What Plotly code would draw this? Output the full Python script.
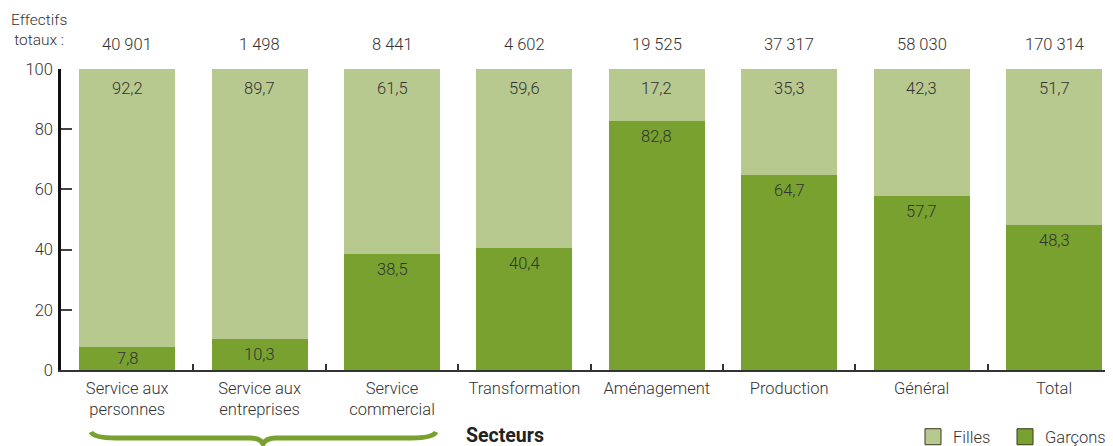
import plotly.graph_objects as go

categories = ["Service aux<br>personnes", "Service aux<br>entreprises", "Service<br>commercial",
              "Transformation", "Aménagement", "Production", "Général", "Total"]
garcons = [7.8, 10.3, 38.5, 40.4, 82.8, 64.7, 57.7, 48.3]
filles = [92.2, 89.7, 61.5, 59.6, 17.2, 35.3, 42.3, 51.7]
effectifs = [40901, 1498, 8441, 4602, 19525, 37317, 58030, 170314]

LIGHT = "#b7c98f"
DARK = "#78a12f"
TXT = "#333333"
FONT = dict(family="Roboto", size=16.5, color=TXT, weight=300)

# page body has an 8px margin: figure is sized so that it ends at the window edge
OFF = 8
W, H = 1113 - OFF, 446 - OFF
L, R, T, B = 61 - OFF, 0, 69 - OFF, 76
PW, PH = W - L - R, H - T - B


def px(x):
    return (x - OFF - L) / PW


def py(y):
    return (H - B - (y - OFF)) / PH


PX_PER_UNIT = PH / 100.0

fig = go.Figure()
fig.add_trace(go.Bar(x=categories, y=garcons, name="Garçons", marker=dict(color=DARK, line=dict(width=0)),
                     showlegend=False, hoverinfo="skip"))
fig.add_trace(go.Bar(x=categories, y=filles, name="Filles", marker=dict(color=LIGHT, line=dict(width=0)),
                     showlegend=False, hoverinfo="skip"))
# legend entries
fig.add_trace(go.Scatter(x=[None], y=[None], mode="markers", name="Filles", legend="legend",
                         marker=dict(symbol="square", size=18, color=LIGHT, line=dict(color="#3a3a1a", width=1))))
fig.add_trace(go.Scatter(x=[None], y=[None], mode="markers", name="Garçons", legend="legend2",
                         marker=dict(symbol="square", size=18, color=DARK, line=dict(color="#3a3a1a", width=1))))

annotations = []
for c, g, f, e in zip(categories, garcons, filles, effectifs):
    annotations.append(dict(x=c, xref="x", y=py(45), yref="paper", text=f"{e:,}".replace(",", " "),
                            showarrow=False, font=FONT, xanchor="center", yanchor="middle"))
    annotations.append(dict(x=c, y=g + f, xref="x", yref="y", text=f"{f:.1f}".replace(".", ","),
                            showarrow=False, font=FONT, xanchor="center", yanchor="middle", yshift=-19))
    annotations.append(dict(x=c, y=g, xref="x", yref="y", text=f"{g:.1f}".replace(".", ","),
                            showarrow=False, font=FONT, xanchor="center", yanchor="middle",
                            yshift=-min(15.5, g * PX_PER_UNIT / 2)))
annotations.append(dict(x=px(39), y=py(30), xref="paper", yref="paper", text="Effectifs<br>totaux :",
                        showarrow=False, font=dict(family="Roboto", size=15.5, color=TXT, weight=300),
                        align="center", xanchor="center", yanchor="middle"))
annotations.append(dict(x=px(465), y=py(435), xref="paper", yref="paper", text="<b>Secteurs</b>",
                        showarrow=False, font=dict(family="Roboto", size=19.5, color="#222222"),
                        xanchor="left", yanchor="middle", borderpad=0))

# brace decoration
pts = [("M", 91, 432), ("Q", 94, 438, 116, 438), ("L", 250, 438), ("Q", 260, 438, 263, 444),
       ("Q", 266, 438, 276, 438), ("L", 411, 438), ("Q", 433, 438, 436, 432)]
path = ""
for p in pts:
    cmd = p[0]
    coords = p[1:]
    s = []
    for i in range(0, len(coords), 2):
        s.append(f"{px(coords[i]):.5f},{py(coords[i+1]):.5f}")
    path += cmd + " " + " ".join(s) + " "

shapes = [dict(type="path", xref="paper", yref="paper", path=path.strip(),
               line=dict(color=DARK, width=5), fillcolor="rgba(0,0,0,0)")]

LEG = dict(orientation="h", xanchor="left", y=py(437), yanchor="middle",
           font=dict(family="Roboto", size=16.5, color=TXT, weight=300),
           bgcolor="rgba(0,0,0,0)", itemsizing="trace", itemclick=False, itemdoubleclick=False)

fig.update_layout(
    width=W, height=H, margin=dict(l=L, r=R, t=T, b=B, autoexpand=False),
    barmode="stack", bargap=0.275,
    paper_bgcolor="white", plot_bgcolor="white",
    font=FONT,
    annotations=annotations, shapes=shapes,
    legend=dict(LEG, x=px(913)),
    legend2=dict(LEG, x=px(1005)),
    xaxis=dict(range=[-0.5, -0.5 + PW / 132.4], showline=True, linecolor="#333333", linewidth=2,
               ticks="inside", tickson="boundaries", ticklen=6, tickcolor="#333333", tickwidth=1.5,
               showgrid=False, zeroline=False, tickfont=FONT, ticklabelstandoff=2, fixedrange=True),
    yaxis=dict(range=[0, 100], tickvals=[0, 20, 40, 60, 80, 100], showline=True, linecolor="#111111",
               linewidth=2.5, ticks="inside", ticklen=11, tickcolor="#444444", tickwidth=1.5,
               showgrid=False, zeroline=False, tickfont=FONT, ticklabelstandoff=2, fixedrange=True),
)

fig.write_html("out.html")
